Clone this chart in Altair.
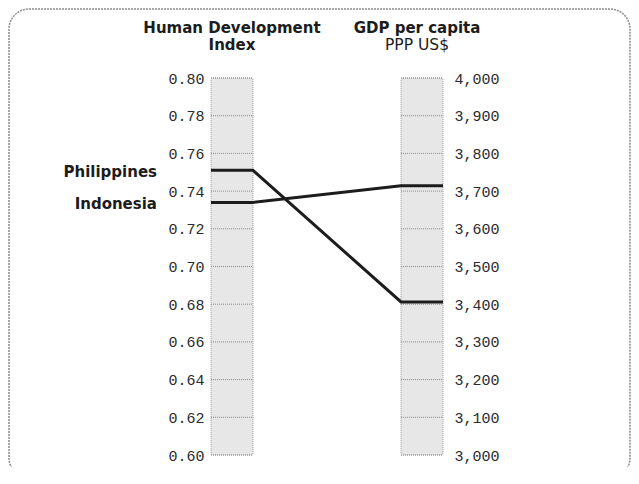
import altair as alt
import pandas as pd

# ---- data ----
countries = ["Philippines", "Indonesia"]
hdi_values = [0.751, 0.734]
gdp_values = [3406, 3714]
hdi_ticks = [0.60, 0.62, 0.64, 0.66, 0.68, 0.70, 0.72, 0.74, 0.76, 0.78, 0.80]
gdp_ticks = [3000, 3100, 3200, 3300, 3400, 3500, 3600, 3700, 3800, 3900, 4000]
hdi_title = ["Human Development", "Index"]
gdp_title = ["GDP per capita", "PPP US$"]

HDI_DOM = [hdi_ticks[0], hdi_ticks[-1]]
GDP_DOM = [gdp_ticks[0], gdp_ticks[-1]]
BW = 0.181  # bar width as share of the span between the two bars' outer edges


def gdp_to_hdi(v):
    return HDI_DOM[0] + (v - GDP_DOM[0]) / (GDP_DOM[1] - GDP_DOM[0]) * (HDI_DOM[1] - HDI_DOM[0])


xs = alt.Scale(domain=[0, 1], nice=False, zero=False)
ys = alt.Scale(domain=HDI_DOM, nice=False, zero=False)

one = pd.DataFrame({"k": [0]})

rows = []
for c, h, g in zip(countries, hdi_values, gdp_values):
    rows += [
        {"country": c, "step": 0, "pos": 0.0, "kind": "hdi", "raw": h},
        {"country": c, "step": 1, "pos": BW, "kind": "hdi", "raw": h},
        {"country": c, "step": 2, "pos": 1 - BW, "kind": "gdp", "raw": g},
        {"country": c, "step": 3, "pos": 1.0, "kind": "gdp", "raw": g},
    ]
lines_df = pd.DataFrame(rows)
labels_df = pd.DataFrame({"country": countries, "hdi": hdi_values})
hdi_ticks_df = pd.DataFrame({"tick": hdi_ticks})
gdp_ticks_df = pd.DataFrame({"tick": gdp_ticks})
gdp_tick_pos = [round(gdp_to_hdi(t), 6) for t in gdp_ticks]

conv = (f"datum.kind == 'hdi' ? datum.raw : {HDI_DOM[0]} + (datum.raw - {GDP_DOM[0]}) / "
        f"({GDP_DOM[1]} - {GDP_DOM[0]}) * ({HDI_DOM[1]} - {HDI_DOM[0]})")
conv_tick = (f"{HDI_DOM[0]} + (datum.tick - {GDP_DOM[0]}) / "
             f"({GDP_DOM[1]} - {GDP_DOM[0]}) * ({HDI_DOM[1]} - {HDI_DOM[0]})")
back = (f"format({GDP_DOM[0]} + (datum.value - {HDI_DOM[0]}) / ({HDI_DOM[1]} - {HDI_DOM[0]})"
        f" * ({GDP_DOM[1]} - {GDP_DOM[0]}), ',d')")

BAR_FILL = "#e7e7e7"
BAR_STROKE = "#9a9a9a"
GRID = "#8a8a8a"
INK = "#1c1c1c"
TXT = "#2a2a2a"

frame = alt.Chart(one).mark_rect(
    filled=False, stroke="#8c8c8c", strokeWidth=1.5, strokeDash=[2, 1], cornerRadius=20
).encode(
    x=alt.value(-202), x2=alt.value(419), y=alt.value(-69), y2=alt.value(400)
)

def bar(x0):
    return alt.Chart(one).mark_rect(
        fill=BAR_FILL, stroke=BAR_STROKE, strokeWidth=1, strokeDash=[1, 1], cornerRadius=2
    ).encode(
        x=alt.datum(x0, scale=xs, axis=None),
        x2=alt.datum(x0 + BW),
        y=alt.datum(HDI_DOM[0], scale=ys, axis=None),
        y2=alt.datum(HDI_DOM[1]),
    )

hdi_bar = bar(0.0)
gdp_bar = bar(1 - BW)

hdi_grid = alt.Chart(hdi_ticks_df).mark_rule(
    color=GRID, strokeWidth=1, strokeDash=[1, 1]
).encode(
    x=alt.datum(0.0, scale=xs, axis=None), x2=alt.datum(BW),
    y=alt.Y("tick:Q", scale=ys,
            axis=alt.Axis(orient="left", values=hdi_ticks, format=".2f",
                          labelPadding=7, title=None)),
)

gdp_grid = alt.Chart(gdp_ticks_df).transform_calculate(yv=conv_tick).mark_rule(
    color=GRID, strokeWidth=1, strokeDash=[1, 1]
).encode(
    x=alt.datum(1 - BW, scale=xs, axis=None), x2=alt.datum(1.0),
    y=alt.Y("yv:Q", scale=ys,
            axis=alt.Axis(orient="right", values=gdp_tick_pos, labelExpr=back,
                          labelPadding=11, title=None)),
)

lines = alt.Chart(lines_df).transform_calculate(yv=conv).mark_line(
    color=INK, strokeWidth=3, strokeJoin="miter", strokeCap="butt"
).encode(
    x=alt.X("pos:Q", scale=xs, axis=None),
    y=alt.Y("yv:Q", scale=ys, axis=None),
    detail="country:N",
    order="step:O",
)

labels = alt.Chart(labels_df).mark_text(
    align="right", baseline="middle", dx=-54, dy=1.5,
    font="DejaVu Sans", fontWeight="bold", fontSize=15, color=INK
).encode(
    x=alt.datum(0.0, scale=xs, axis=None),
    y=alt.Y("hdi:Q", scale=ys, axis=None),
    text="country:N",
)

def title_text(txt, xpos, ypix, bold, size, dx=0):
    return alt.Chart(one).mark_text(
        text=txt, align="center", baseline="alphabetic", dx=dx,
        font="DejaVu Sans", fontWeight="bold" if bold else "normal",
        fontSize=size, color=INK
    ).encode(x=alt.datum(xpos, scale=xs, axis=None), y=alt.value(ypix))

t1 = title_text(hdi_title[0], BW / 2, -45, True, 15)
t2 = title_text(hdi_title[1], BW / 2, -28.5, True, 15)
t3 = title_text(gdp_title[0], 1 - BW / 2, -45, True, 15, dx=-5)
t4 = title_text(gdp_title[1], 1 - BW / 2, -28.5, False, 15.5, dx=-5)

chart = alt.layer(
    frame, hdi_bar, gdp_bar, hdi_grid, gdp_grid, lines, labels, t1, t2, t3, t4
).resolve_axis(y="independent").properties(
    width=232,
    height=377,
    autosize=alt.AutoSizeParams(type="none"),
    padding={"left": 203, "top": 70, "right": 188, "bottom": 12},
    background="white",
).configure_view(stroke=None).configure_axis(
    labelFont="Liberation Mono", labelFontSize=15, labelColor=TXT,
    domain=False, ticks=False, grid=False,
)

chart.save("out.html", embed_options={"renderer": "svg", "actions": False})
